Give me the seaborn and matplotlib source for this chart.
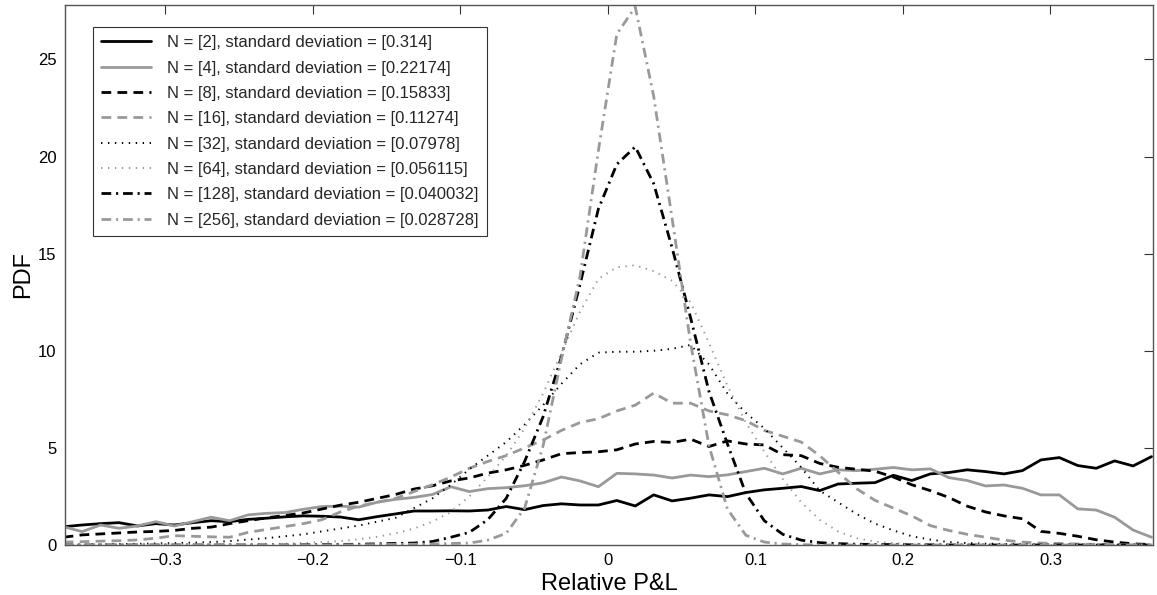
import numpy as np
import pandas as pd
import matplotlib
matplotlib.use("Agg")
import matplotlib.pyplot as plt
import seaborn as sns

# ---------------- data ----------------
x_grid = [-0.369, -0.3565, -0.344, -0.3315, -0.319, -0.3065, -0.294, -0.2815, -0.269, -0.2565,
          -0.244, -0.2315, -0.219, -0.2065, -0.194, -0.1815, -0.169, -0.1565, -0.144, -0.1315,
          -0.119, -0.1065, -0.094, -0.0815, -0.069, -0.0565, -0.044, -0.0315, -0.019, -0.0065,
          0.006, 0.0185, 0.031, 0.0435, 0.056, 0.0685, 0.081, 0.0935, 0.106, 0.1185,
          0.131, 0.1435, 0.156, 0.1685, 0.181, 0.1935, 0.206, 0.2185, 0.231, 0.2435,
          0.256, 0.2685, 0.281, 0.2935, 0.306, 0.3185, 0.331, 0.3435, 0.356, 0.3685]

pdf_n2 = [0.94, 1.03, 1.1, 1.15, 0.98, 1.1, 1.03, 1.15, 1.25, 1.2,
          1.32, 1.38, 1.45, 1.5, 1.48, 1.44, 1.3, 1.46, 1.6, 1.75,
          1.75, 1.76, 1.75, 1.8, 1.98, 1.82, 2.03, 2.12, 2.06, 2.06,
          2.29, 2.01, 2.58, 2.27, 2.41, 2.58, 2.49, 2.70, 2.84, 2.92,
          3.01, 2.80, 3.14, 3.18, 3.21, 3.59, 3.32, 3.66, 3.73, 3.87,
          3.78, 3.66, 3.83, 4.38, 4.50, 4.09, 3.95, 4.33, 4.07, 4.55]

pdf_n4 = [0.94, 0.69, 1.03, 0.86, 0.98, 1.2, 0.98, 1.2, 1.43, 1.25,
          1.55, 1.63, 1.67, 1.84, 1.98, 2.0, 1.95, 2.2, 2.35, 2.45,
          2.6, 3.0, 2.75, 2.9, 2.95, 3.05, 3.2, 3.5, 3.3, 3.0,
          3.69, 3.66, 3.6, 3.45, 3.6, 3.52, 3.61, 3.78, 3.95, 3.66,
          3.95, 3.66, 3.87, 3.83, 3.90, 3.99, 3.87, 3.92, 3.47, 3.32,
          3.04, 3.09, 2.92, 2.58, 2.58, 1.86, 1.80, 1.43, 0.77, 0.40]

pdf_n8 = [0.4, 0.52, 0.57, 0.62, 0.67, 0.70, 0.75, 0.86, 0.92, 1.1,
          1.25, 1.4, 1.52, 1.65, 1.85, 2.05, 2.2, 2.4, 2.6, 2.88,
          3.05, 3.3, 3.45, 3.7, 3.87, 4.1, 4.38, 4.7, 4.76, 4.8,
          4.9, 5.2, 5.33, 5.28, 5.45, 5.07, 5.36, 5.2, 5.15, 4.65,
          4.6, 4.2, 4.0, 3.9, 3.8, 3.5, 3.1, 2.8, 2.45, 2.0,
          1.7, 1.5, 1.35, 0.7, 0.6, 0.45, 0.27, 0.15, 0.06, 0.02]

pdf_n16 = [0.15, 0.17, 0.2, 0.22, 0.26, 0.35, 0.48, 0.45, 0.42, 0.4,
           0.65, 0.8, 0.95, 1.1, 1.3, 1.7, 2.0, 2.2, 2.4, 2.75,
           3.1, 3.5, 3.95, 4.3, 4.6, 5.0, 5.4, 5.9, 6.3, 6.5,
           6.9, 7.2, 7.82, 7.3, 7.3, 6.9, 6.7, 6.4, 5.9, 5.6,
           5.3, 4.6, 3.75, 2.9, 2.3, 1.9, 1.5, 1.0, 0.75, 0.55,
           0.4, 0.25, 0.15, 0.1, 0.08, 0.05, 0.03, 0.02, 0.01, 0.0]

pdf_n32 = [0.0, 0.02, 0.03, 0.05, 0.06, 0.08, 0.1, 0.12, 0.15, 0.2,
           0.28, 0.35, 0.45, 0.55, 0.7, 0.85, 1.0, 1.2, 1.4, 1.9,
           2.4, 3.1, 3.9, 4.6, 5.3, 6.2, 7.2, 8.3, 9.3, 9.9,
           9.95, 9.95, 10.0, 10.1, 10.3, 9.3, 7.8, 6.8, 6.0, 5.0,
           4.0, 2.8, 2.2, 1.6, 1.1, 0.75, 0.45, 0.28, 0.15, 0.1,
           0.07, 0.05, 0.04, 0.03, 0.02, 0.02, 0.01, 0.01, 0.01, 0.01]

pdf_n64 = [0.0, 0.0, 0.0, 0.01, 0.01, 0.01, 0.02, 0.02, 0.03, 0.03,
           0.04, 0.05, 0.07, 0.1, 0.15, 0.2, 0.3, 0.42, 0.6, 0.85,
           1.2, 1.7, 2.5, 3.5, 4.6, 6.0, 7.8, 9.9, 12.0, 13.7,
           14.3, 14.4, 14.1, 13.6, 12.5, 10.4, 8.2, 6.3, 4.8, 3.4,
           2.2, 1.3, 0.7, 0.35, 0.18, 0.1, 0.05, 0.03, 0.02, 0.01,
           0.01, 0.0, 0.0, 0.0, 0.0, 0.0, 0.0, 0.0, 0.0, 0.0]

pdf_n128 = [0.0, 0.0, 0.0, 0.0, 0.0, 0.0, 0.0, 0.0, 0.0, 0.0,
            0.0, 0.0, 0.0, 0.01, 0.02, 0.03, 0.04, 0.06, 0.08, 0.1,
            0.18, 0.4, 0.65, 1.3, 2.4, 4.3, 6.6, 9.7, 13.4, 17.3,
            19.6, 20.5, 18.6, 15.3, 11.7, 7.9, 5.2, 2.65, 1.25, 0.55,
            0.25, 0.12, 0.07, 0.04, 0.03, 0.02, 0.01, 0.01, 0.0, 0.0,
            0.0, 0.0, 0.0, 0.0, 0.0, 0.0, 0.0, 0.0, 0.0, 0.0]

pdf_n256 = [0.0, 0.0, 0.0, 0.0, 0.0, 0.0, 0.0, 0.0, 0.0, 0.0,
            0.0, 0.0, 0.0, 0.0, 0.0, 0.01, 0.01, 0.02, 0.03, 0.04,
            0.05, 0.08, 0.1, 0.25, 0.6, 1.9, 5.1, 9.6, 13.8, 20.3,
            26.3, 27.7, 23.1, 16.8, 10.4, 5.1, 1.85, 0.5, 0.15, 0.05,
            0.02, 0.0, 0.0, 0.0, 0.0, 0.0, 0.0, 0.0, 0.0, 0.0,
            0.0, 0.0, 0.0, 0.0, 0.0, 0.0, 0.0, 0.0, 0.0, 0.0]

series_labels = [
    "N = [2], standard deviation = [0.314]",
    "N = [4], standard deviation = [0.22174]",
    "N = [8], standard deviation = [0.15833]",
    "N = [16], standard deviation = [0.11274]",
    "N = [32], standard deviation = [0.07978]",
    "N = [64], standard deviation = [0.056115]",
    "N = [128], standard deviation = [0.040032]",
    "N = [256], standard deviation = [0.028728]",
]
series_values = [pdf_n2, pdf_n4, pdf_n8, pdf_n16, pdf_n32, pdf_n64, pdf_n128, pdf_n256]

x_ticks = [-0.3, -0.2, -0.1, 0.0, 0.1, 0.2, 0.3]
x_tick_labels = ["\u22120.3", "\u22120.2", "\u22120.1", "0", "0.1", "0.2", "0.3"]
y_ticks = [0, 5, 10, 15, 20, 25]

# ---------------- styling ----------------
sns.set_theme(style="white")
plt.rcParams["font.family"] = ["Liberation Sans", "DejaVu Sans"]
plt.rcParams["lines.scale_dashes"] = False

BLACK = "#000000"
GRAY = "#999999"
DASH = (0, (7, 4.5))
DOT = (0, (1.0, 4.0))
DASHDOT = (0, (7, 3.5, 1.5, 3.5))
line_styles = [
    (BLACK, 2.0, "-"),
    (GRAY, 2.0, "-"),
    (BLACK, 2.0, DASH),
    (GRAY, 2.0, DASH),
    (BLACK, 1.4, DOT),
    (GRAY, 1.4, DOT),
    (BLACK, 2.0, DASHDOT),
    (GRAY, 2.0, DASHDOT),
]

W, H = 1157, 595
fig = plt.figure(figsize=(W / 100, H / 100), dpi=100)
ax = fig.add_axes([65 / W, 50 / H, 1088 / W, 540 / H])

for label, vals, (col, lw, ls) in zip(series_labels, series_values, line_styles):
    df = pd.DataFrame({"x": x_grid, "pdf": vals})
    sns.lineplot(data=df, x="x", y="pdf", ax=ax, color=col, linewidth=lw,
                 linestyle=ls, label=label, errorbar=None, sort=False)

ax.set_xlim(-0.3681, 0.3695)
ax.set_ylim(0, 27.8)
ax.set_xticks(x_ticks)
ax.set_xticklabels(x_tick_labels)
ax.set_yticks(y_ticks)
ax.tick_params(direction="in", top=True, right=True, length=6.5, width=0.8,
               color="#333333", labelsize=12, labelcolor="black", pad=6)
for sp in ax.spines.values():
    sp.set_color("#555555")
    sp.set_linewidth(1.0)
    sp.set_visible(True)

ax.set_xlabel("Relative P&L", fontsize=17, color="black", labelpad=3)
ax.set_ylabel("PDF", fontsize=17, color="black", labelpad=3)

leg = ax.legend(loc="upper left", bbox_to_anchor=(0.0257, 0.9593), borderaxespad=0,
                fontsize=12, frameon=True, fancybox=False, framealpha=1,
                edgecolor="#333333", handlelength=3.0, handletextpad=0.95,
                borderpad=0.5, labelspacing=0.62)
leg.get_frame().set_linewidth(0.8)

fig.savefig("out.png", dpi=100)
